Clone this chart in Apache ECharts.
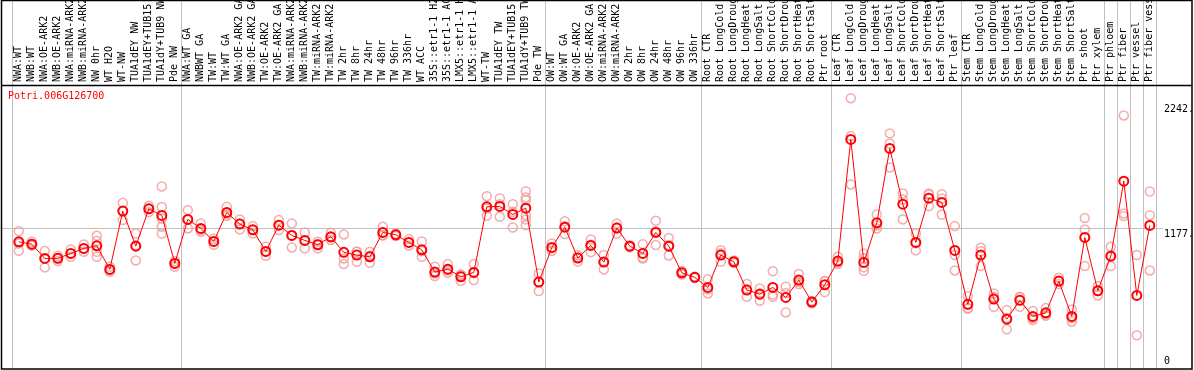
<!DOCTYPE html>
<html>
<head>
<meta charset="utf-8">
<script src="https://cdn.jsdelivr.net/npm/echarts@6/dist/echarts.min.js"></script>
<style>
html, body { margin: 0; padding: 0; background: #fff; }
#chart { width: 1194px; height: 370px; }
</style>
</head>
<body>
<div id="chart"></div>
<script>
// gene shown in the corner
var geneName = 'Potri.006G126700';

// sample names (cut to 14 chars like the source)
var categories = [
    'NWA:WT', 'NWB:WT', 'NWA:OE-ARK2', 'NWB:OE-ARK2', 'NWA:miRNA-ARK2', 'NWB:miRNA-ARK2',
    'NW 0hr', 'WT H2O', 'WT-NW', 'TUA1dEY NW', 'TUA1dEY+TUB15 ', 'TUA1dY+TUB9 NW', 'Pde NW',
    'NWA:WT GA', 'NWBWT GA', 'TW:WT', 'TW:WT GA', 'NWA:OE-ARK2 GA', 'NWB:OE-ARK2 GA',
    'TW:OE-ARK2', 'TW:OE-ARK2 GA', 'NWA:miRNA-ARK2', 'NWB:miRNA-ARK2', 'TW:miRNA-ARK2',
    'TW:miRNA-ARK2', 'TW 2hr', 'TW 8hr', 'TW 24hr', 'TW 48hr', 'TW 96hr', 'TW 336hr',
    'WT ACC', '35S::etr1-1 H2', '35S::etr1-1 AC', 'LMX5::etr1-1 H', 'LMX5::etr1-1 A',
    'WT-TW', 'TUA1dEY TW', 'TUA1dEY+TUB15 ', 'TUA1dY+TUB9 TW', 'Pde TW',
    'OW:WT', 'OW:WT GA', 'OW:OE-ARK2', 'OW:OE-ARK2 GA', 'OW:miRNA-ARK2', 'OW:miRNA-ARK2',
    'OW 2hr', 'OW 8hr', 'OW 24hr', 'OW 48hr', 'OW 96hr', 'OW 336hr',
    'Root CTR', 'Root LongCold', 'Root LongDroug', 'Root LongHeat', 'Root LongSalt',
    'Root ShortCold', 'Root ShortDrou', 'Root ShortHeat', 'Root ShortSalt', 'Ptr root',
    'Leaf CTR', 'Leaf LongCold', 'Leaf LongDroug', 'Leaf LongHeat', 'Leaf LongSalt',
    'Leaf ShortCold', 'Leaf ShortDrou', 'Leaf ShortHeat', 'Leaf ShortSalt', 'Ptr leaf',
    'Stem CTR', 'Stem LongCold', 'Stem LongDroug', 'Stem LongHeat', 'Stem LongSalt',
    'Stem ShortCold', 'Stem ShortDrou', 'Stem ShortHeat', 'Stem ShortSalt',
    'Ptr shoot', 'Ptr xylem', 'Ptr phloem', 'Ptr fiber', 'Ptr vessel', 'Ptr fiber vess'
];

// mean expression per sample
var means = [
    1059, 1039, 917, 918, 960, 1003, 1025, 824, 1321, 1022,
    1340, 1284, 875, 1250, 1173, 1062, 1309, 1210, 1161, 977,
    1201, 1113, 1071, 1034, 1102, 969, 946, 931, 1139, 1119,
    1054, 991, 801, 826, 761, 798, 1357, 1361, 1292, 1346,
    716, 1011, 1184, 920, 1028, 886, 1176, 1022, 960, 1139,
    1022, 795, 756, 670, 946, 889, 648, 613, 670, 585,
    733, 545, 693, 895, 1932, 883, 1221, 1855, 1380, 1054,
    1431, 1395, 986, 526, 946, 571, 400, 560, 423, 454,
    724, 423, 1096, 642, 937, 1576, 602, 1199
];

// replicate values (first, second, third replicate)
var repA = [
    1150, 1059, 980, 940, 994, 1037, 1110, 846, 1391, 1130,
    1366, 1531, 895, 1329, 1216, 1085, 1357, 1250, 1193, 1017,
    1244, 1216, 1139, 1059, 1136, 1122, 975, 974, 1187, 1130,
    1082, 1062, 846, 869, 780, 869, 1448, 1431, 1380, 1491,
    790, 1045, 1235, 945, 1079, 946, 1216, 1030, 1039, 1238,
    1091, 810, 762, 739, 988, 900, 699, 662, 809, 676,
    784, 555, 727, 931, 2283, 960, 1292, 1983, 1471, 1130,
    1471, 1465, 1193, 596, 1008, 619, 477, 591, 469, 494,
    752, 483, 1261, 682, 1017, 2136, 946, 1488
];
var repB = [
    1045, 1039, 917, 918, 960, 1003, 1065, 824, 1321, 1030,
    1340, 1355, 875, 1250, 1160, 1062, 1295, 1215, 1160, 975,
    1200, 1113, 1071, 1040, 1095, 917, 974, 940, 1117, 1119,
    1054, 980, 790, 815, 775, 792, 1342, 1380, 1315, 1437,
    718, 1005, 1192, 925, 1034, 888, 1182, 1022, 925, 1148,
    1032, 795, 756, 652, 961, 889, 654, 620, 610, 622,
    716, 545, 721, 885, 1960, 919, 1198, 1897, 1420, 1046,
    1460, 1428, 946, 494, 978, 589, 410, 584, 408, 440,
    721, 408, 1165, 642, 942, 1301, 262, 1286
];
var repC = [
    982, 1025, 841, 895, 931, 974, 974, 803, 1244, 900,
    1312, 1258, 846, 1173, 1144, 1034, 1278, 1165, 1130, 940,
    1159, 1011, 1003, 1003, 1074, 869, 889, 880, 1113, 1108,
    1028, 931, 767, 795, 727, 733, 1281, 1272, 1181, 1414,
    639, 982, 1125, 890, 971, 824, 1130, 1013, 917, 1031,
    943, 780, 750, 619, 889, 878, 591, 557, 591, 457,
    699, 535, 631, 869, 1548, 841, 1173, 1693, 1250, 986,
    1363, 1292, 815, 488, 852, 505, 313, 505, 392, 428,
    699, 378, 852, 602, 852, 1278, null, 815
];
// samples with more than three replicates: [sample index, value]
var extraReps = [
    [6, 931], [11, 1187], [11, 1130], [39, 1286], [39, 1250], [39, 1201], [65, 812]
];

// index of first sample in each block (grey separators)
var groupStarts = [0, 13, 41, 53, 63, 73, 84, 85, 86, 87, 88];

// right side labels
var yTickValues = [0, 1177, 2242];
var yTickLabels = ['0', '1177.', '2242.'];

var mono = 'DejaVu Sans Mono';
var repColor = '#ef9a9a';

var myChart = echarts.init(document.getElementById('chart'));

function repSeries(data) {
    return {
        type: 'scatter',
        data: data,
        symbol: 'circle',
        symbolSize: 9,
        silent: true,
        z: 2,
        itemStyle: {
            color: 'rgba(255,255,255,0)',
            borderColor: repColor,
            borderWidth: 1.5
        }
    };
}

var option = {
    animation: false,
    backgroundColor: '#fff',
    title: {
        text: geneName,
        left: 8,
        top: 91,
        padding: 0,
        textStyle: {
            color: '#ff0000',
            fontFamily: mono,
            fontSize: 10,
            fontWeight: 'normal'
        }
    },
    grid: {
        left: 12.3,
        right: 37.7,
        top: 0,
        bottom: 1,
        containLabel: false,
        outerBoundsMode: 'none'
    },
    xAxis: {
        type: 'category',
        data: categories,
        position: 'top',
        offset: -85,
        boundaryGap: true,
        axisLine: { show: false },
        axisTick: { show: false },
        axisLabel: {
            interval: 0,
            rotate: 90,
            margin: 3,
            color: '#000',
            fontFamily: mono,
            fontSize: 10
        },
        splitLine: {
            show: true,
            interval: function (index) {
                return groupStarts.indexOf(index) >= 0;
            },
            lineStyle: { color: '#c0c0c0', width: 1 }
        }
    },
    yAxis: {
        type: 'value',
        min: -25,
        max: 3120,
        show: false,
        splitLine: { show: false }
    },
    series: [
        repSeries(repA),
        repSeries(repB),
        repSeries(repC),
        repSeries(extraReps),
        {
            type: 'line',
            data: means,
            symbol: 'circle',
            symbolSize: 9,
            showSymbol: true,
            showAllSymbol: true,
            silent: true,
            z: 3,
            lineStyle: { color: '#ff0000', width: 1 },
            itemStyle: {
                color: 'rgba(255,255,255,0)',
                borderColor: '#ff0000',
                borderWidth: 2
            }
        }
    ]
};

myChart.setOption(option);

// frame, header rule, reference line and right labels
var W = 1194, H = 370;
var gridY = myChart.convertToPixel({ yAxisIndex: 0 }, 1177);
var gfx = [
    {
        type: 'rect', silent: true, z: 10,
        shape: { x: 1.5, y: 0.5, width: W - 3.5, height: H - 1.5 },
        style: { fill: null, stroke: '#000', lineWidth: 1.5 }
    },
    {
        type: 'line', silent: true, z: 10,
        shape: { x1: 1, y1: 85.5, x2: W - 2, y2: 85.5 },
        style: { stroke: '#000', lineWidth: 1.5 }
    },
    {
        type: 'line', silent: true, z: 1,
        shape: { x1: 1, y1: Math.round(gridY) + 0.5, x2: 1163, y2: Math.round(gridY) + 0.5 },
        style: { stroke: '#c0c0c0', lineWidth: 1 }
    }
];
yTickValues.forEach(function (v, i) {
    var py = myChart.convertToPixel({ yAxisIndex: 0 }, v);
    gfx.push({
        type: 'text', silent: true, z: 10,
        x: 1164,
        y: v === 0 ? py : py + 1,
        style: {
            text: yTickLabels[i],
            fill: '#000',
            font: '10px "' + mono + '"',
            verticalAlign: v === 0 ? 'bottom' : 'top'
        }
    });
});
myChart.setOption({ graphic: gfx });
</script>
</body>
</html>
